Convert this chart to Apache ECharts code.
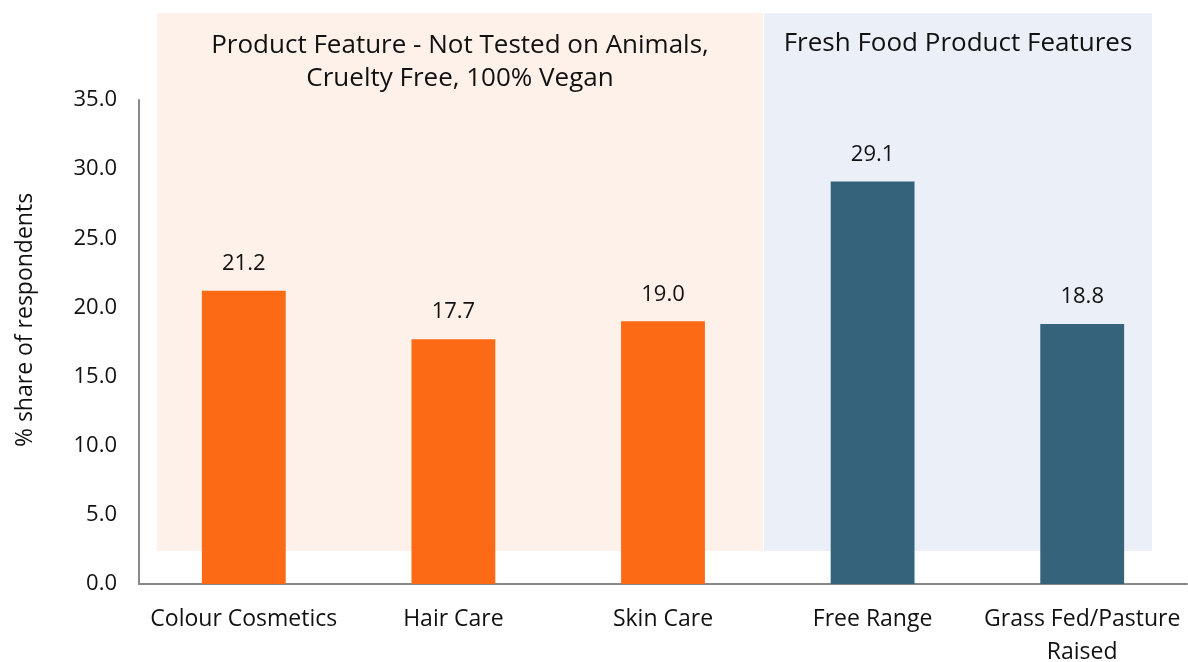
<!DOCTYPE html>
<html>
<head>
<meta charset="utf-8">
<script src="https://cdn.jsdelivr.net/npm/echarts@6/dist/echarts.min.js"></script>
<style>
  html, body { margin: 0; padding: 0; background: #fff; }
  #main { width: 1188px; height: 662px; }
</style>
</head>
<body>
<div id="main"></div>
<script>
var categories = ['Colour Cosmetics', 'Hair Care', 'Skin Care', 'Free Range', 'Grass Fed/Pasture\nRaised'];
var shares = [21.2, 17.7, 19.0, 29.1, 18.8];
var barColors = ['#fd6a16', '#fd6a16', '#fd6a16', '#35637b', '#35637b'];
var groupTitles = ['Product Feature - Not Tested on Animals,\nCruelty Free, 100% Vegan', 'Fresh Food Product Features'];
var yAxisTitle = '% share of respondents';

var font = '"Open Sans", sans-serif';
var myChart = echarts.init(document.getElementById('main'));

var option = {
    backgroundColor: '#fff',
    animation: false,
    textStyle: { fontFamily: font },
    // group backgrounds behind the bars
    graphic: [
        { type: 'rect', z: -10, shape: { x: 157, y: 13, width: 606, height: 538 }, style: { fill: '#fdf1ea' } },
        { type: 'rect', z: -10, shape: { x: 764, y: 13, width: 388, height: 538 }, style: { fill: '#ebf0f8' } },
        { type: 'text', z: 5, x: 460, y: 62, style: { text: groupTitles[0], fill: '#111', font: '26px ' + font, align: 'center', verticalAlign: 'middle', lineHeight: 33 } },
        { type: 'text', z: 5, x: 958, y: 44, style: { text: groupTitles[1], fill: '#111', font: '26px ' + font, align: 'center', verticalAlign: 'middle' } },
        { type: 'text', z: 5, x: 25, y: 320, rotation: Math.PI / 2, style: { text: yAxisTitle, fill: '#111', font: '23px ' + font, align: 'center', verticalAlign: 'middle' } }
    ],
    grid: { left: 139, right: 1, top: 100, bottom: 78, containLabel: false, outerBoundsMode: 'none' },
    xAxis: {
        type: 'category',
        data: categories,
        axisLine: { lineStyle: { color: '#898989', width: 2 } },
        axisTick: { show: false },
        axisLabel: { color: '#111', fontSize: 23, margin: 19, lineHeight: 33, interval: 0 }
    },
    yAxis: {
        type: 'value',
        min: 0,
        max: 35,
        interval: 5,
        axisLine: { show: true, lineStyle: { color: '#898989', width: 2 } },
        axisTick: { show: false },
        splitLine: { show: false },
        axisLabel: {
            color: '#111', fontSize: 22, margin: 22,
            formatter: function (v) { return v.toFixed(1); }
        }
    },
    series: [{
        type: 'bar',
        barWidth: '40%',
        data: shares.map(function (v, i) {
            return { value: v, itemStyle: { color: barColors[i] } };
        }),
        label: {
            show: true,
            position: 'top',
            distance: 16,
            color: '#111',
            fontSize: 22,
            formatter: function (p) { return p.value.toFixed(1); }
        }
    }]
};
myChart.setOption(option);
</script>
</body>
</html>
